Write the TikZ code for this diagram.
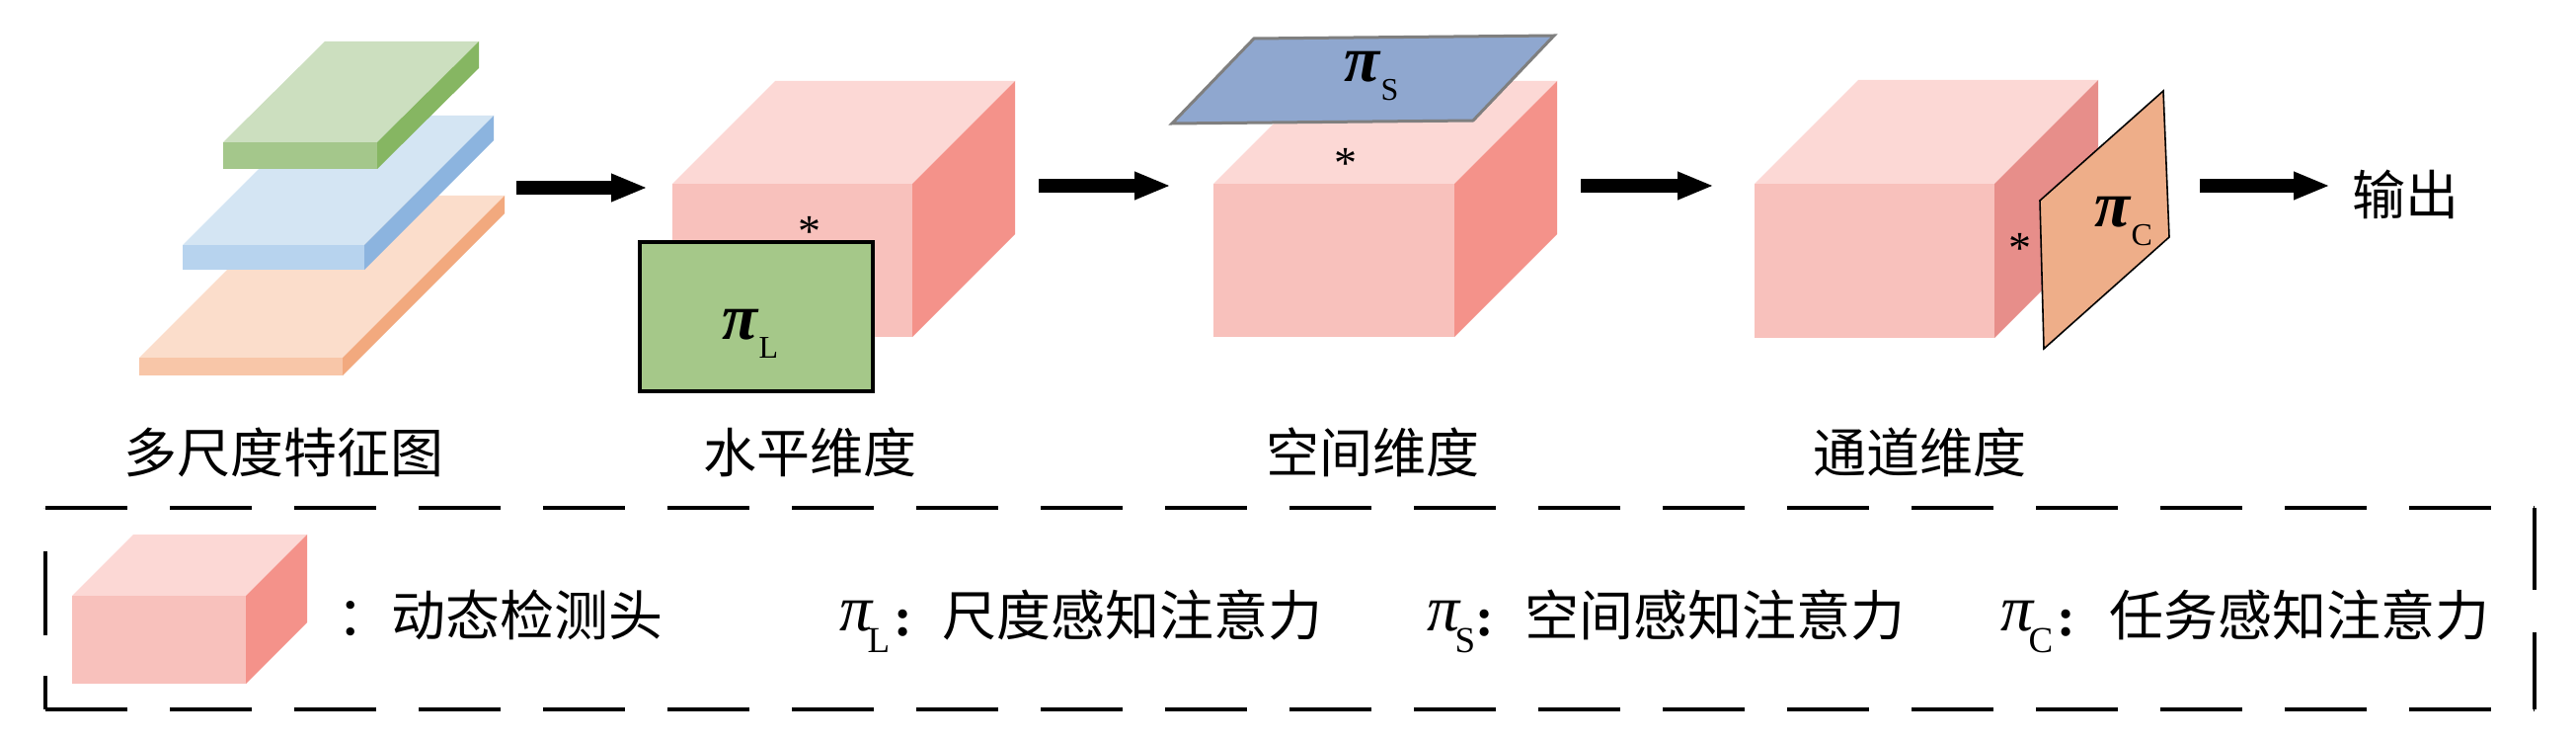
\documentclass[tikz,border=0pt]{standalone}
\usepackage{fontspec}
\setmainfont{Liberation Serif}
\newfontfamily\cjk{Noto Sans CJK SC}
\usetikzlibrary{arrows.meta}

\definecolor{ctop}{HTML}{FCD8D5}
\definecolor{cfront}{HTML}{F8C1BC}
\definecolor{cright}{HTML}{F4928A}
\definecolor{crightB}{HTML}{E78E8A}
\definecolor{gtop}{HTML}{CCDFBF}
\definecolor{gfront}{HTML}{A4C78B}
\definecolor{gright}{HTML}{86B662}
\definecolor{btop}{HTML}{D4E5F3}
\definecolor{bfront}{HTML}{B7D3EE}
\definecolor{bright}{HTML}{8CB4DF}
\definecolor{otop}{HTML}{FBDDCB}
\definecolor{ofront}{HTML}{F8C6A8}
\definecolor{oright}{HTML}{F2A97E}
\definecolor{piLfill}{HTML}{A5C889}
\definecolor{piSfill}{HTML}{8FA7CF}
\definecolor{piSedge}{HTML}{7F7F7F}
\definecolor{piCfill}{HTML}{EEAE89}

% #1,#2 front top-left; #3 width; #4 height; #5,#6 depth vector; #7 top; #8 front; #9 right
\newcommand\mycube[9]{%
  \fill[#7] (#1,#2) -- ++(#3,0) -- ++(#5,#6) -- ++({-(#3)},0) -- cycle;
  \fill[#8] (#1,#2) rectangle ++(#3,#4);
  \fill[#9] ({#1+#3},#2) -- ++(#5,#6) -- ++(0,#4) -- ++({-(#5)},{-(#6)}) -- cycle;
}

\tikzset{
  lbl/.style={font=\cjk\fontsize{54}{60}\selectfont, inner sep=0pt, anchor=base},
  legtxt/.style={font=\cjk\fontsize{55}{60}\selectfont, inner sep=0pt, anchor=base west},
  legcolon/.style={font=\fontsize{56}{56}\selectfont\bfseries, inner sep=0pt, anchor=base},
  piB/.style={font=\fontsize{66}{66}\selectfont\bfseries\itshape, inner sep=0pt, anchor=base west},
  subB/.style={font=\fontsize{32}{32}\selectfont, inner sep=0pt, anchor=base west, xshift=1pt, yshift=-19pt},
  piR/.style={font=\fontsize{66}{66}\selectfont\itshape, inner sep=0pt, anchor=base west},
  subR/.style={font=\fontsize{37}{37}\selectfont, inner sep=0pt, anchor=base west, xshift=-5pt, yshift=-22pt},
  star/.style={font=\fontsize{46}{46}\selectfont, inner sep=0pt, anchor=base},
  bigarrow/.style={line width=14pt, -{Triangle[length=37pt,width=26pt]}},
  frame/.style={line width=4pt, dash pattern=on 83pt off 43pt},
}

\begin{document}
\begin{tikzpicture}[x=1pt,y=-1pt]
\fill[white] (0,0) rectangle (2609,751);
\useasboundingbox (0,0) rectangle (2609,751);

% multi-scale feature maps
\mycube{141}{362}{206}{18}{164}{-164}{otop}{ofront}{oright}
\mycube{185}{248}{184}{25}{131}{-131}{btop}{bfront}{bright}
\mycube{226}{144}{156}{27}{103}{-102}{gtop}{gfront}{gright}
\node[lbl] (t1) at (287,478) {多尺度特征图};

% cube 2 (horizontal / scale)
\mycube{681}{186}{243}{155}{104}{-104}{ctop}{cfront}{cright}
\node[draw=black, line width=4pt, fill=piLfill, minimum width=236pt, minimum height=151pt, inner sep=0pt] (piL) at (766,320.5) {};
\node[piB] (piLp) at (731,343) {π};
\node[subB] (piLs) at (piLp.base east) {L};
\node[star] (s1) at (820,250) {*};
\node[lbl] (t2) at (820,478) {水平维度};

% cube 3 (spatial)
\mycube{1229}{186}{244}{155}{104}{-104}{ctop}{cfront}{cright}
\draw[line width=3pt, draw=piSedge, fill=piSfill, line join=miter]
  (1270,39) -- (1574,36) -- (1492,122) -- (1187,125) -- cycle;
\node[piB] (piSp) at (1361,83) {π};
\node[subB] (piSs) at (piSp.base east) {S};
\node[star] (s2) at (1363,181) {*};
\node[lbl] (t3) at (1390,478) {空间维度};

% cube 4 (channel)
\mycube{1777}{186}{243}{156}{105}{-105}{ctop}{cfront}{crightB}
\draw[line width=1.6pt, draw=black, fill=piCfill]
  (2191,92) -- (2197,240) -- (2070,353) -- (2066,203) -- cycle;
\node[piB] (piCp) at (2121,230) {π};
\node[subB] (piCs) at (piCp.base east) {C};
\node[star] (s3) at (2046,266) {*};
\node[lbl] (t4) at (1944,478) {通道维度};

\node[lbl] (out) at (2436,218) {输出};

% arrows
\coordinate (a1s) at (523,190); \coordinate (a1e) at (656,190);
\coordinate (a2s) at (1052,188); \coordinate (a2e) at (1186,188);
\coordinate (a3s) at (1601,188); \coordinate (a3e) at (1736,188);
\coordinate (a4s) at (2228,188); \coordinate (a4e) at (2360,188);
\draw[bigarrow] (a1s) -- (a1e);
\draw[bigarrow] (a2s) -- (a2e);
\draw[bigarrow] (a3s) -- (a3e);
\draw[bigarrow] (a4s) -- (a4e);

% legend frame
\draw[frame] (46,514) -- (2567,514);
\draw[frame] (46,718) -- (2567,718);
\draw[frame] (2567,514) -- (2567,718);
\draw[line width=4pt, dash pattern=on 34pt off 41pt on 85pt off 44pt] (46,718) -- (46,514);

% legend contents
\mycube{73}{603}{176}{89}{62}{-62}{ctop}{cfront}{cright}
\node[legtxt] (l1) at (341,643) {：动态检测头};
\node[piR] (p1) at (850,638) {π};
\node[subR] (p1s) at (p1.base east) {L};
\node[legcolon] (c1) at (915,643) {:};
\node[legtxt] (l2) at (954,643) {尺度感知注意力};
\node[piR] (p2) at (1445,638) {π};
\node[subR] (p2s) at (p2.base east) {S};
\node[legcolon] (c2) at (1504,643) {:};
\node[legtxt] (l3) at (1544,643) {空间感知注意力};
\node[piR] (p3) at (2026,638) {π};
\node[subR] (p3s) at (p3.base east) {C};
\node[legcolon] (c3) at (2093,643) {:};
\node[legtxt] (l4) at (2136,643) {任务感知注意力};
\end{tikzpicture}
\end{document}
